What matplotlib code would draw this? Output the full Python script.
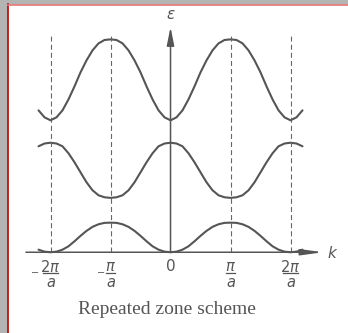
import numpy as np
import matplotlib.pyplot as plt
from matplotlib.patches import Rectangle

# energy bands in the repeated zone scheme, k in units of pi/a
# values read every 0.1 pi/a from a band edge at k = 0 to the next one at k = pi/a
band_low = [0.0, 0.03, 0.13, 0.30, 0.55, 0.82, 1.07, 1.27, 1.40, 1.47, 1.48]
band_mid = [5.48, 5.44, 5.30, 4.95, 4.50, 4.00, 3.50, 3.10, 2.85, 2.75, 2.72]
band_top = [6.60, 6.75, 7.10, 7.65, 8.30, 9.00, 9.60, 10.10, 10.45, 10.62, 10.65]

zone_lines = [-2, -1, 1, 2]
tick_pos = [-2, -1, 0, 1, 2]
tick_num = [r'$2\pi$', r'$\pi$', '0', r'$\pi$', r'$2\pi$']
tick_sign = ['\u2212', '\u2212', '', '', '']

# k from -2.2 to 2.2 pi/a in steps of 0.1, each point maps to its offset
# from the nearest even multiple of pi/a (the bands repeat every 2 pi/a)
k_tenths = np.arange(-22, 23)
m = k_tenths % 20
offset = np.where(m <= 10, m, 20 - m)
k = k_tenths / 10.0

ink = '#555555'

fig = plt.figure(figsize=(3.48, 3.33), dpi=100)
ax = fig.add_axes([0, 0, 1, 1])
ax.set_xlim(-2.842, 2.958)
ax.set_ylim(-4.04, 12.62)
ax.axis('off')

for band in (band_low, band_mid, band_top):
    ax.plot(k, np.asarray(band)[offset], color=ink, lw=1.5,
            solid_capstyle='round')

for kz in zone_lines:
    ax.plot([kz, kz], [0, 10.97], color='#666666', lw=0.8,
            dashes=(4.5, 2.8))

# axes with arrow heads
ax.annotate('', xy=(2.54, 0), xytext=(-2.41, 0),
            arrowprops=dict(arrowstyle='-|>,head_length=1.3,head_width=0.18',
                            color=ink, lw=1.1, shrinkA=0, shrinkB=0))
ax.annotate('', xy=(0, 11.27), xytext=(0, 0),
            arrowprops=dict(arrowstyle='-|>,head_length=1.1,head_width=0.22',
                            color=ink, lw=1.1, shrinkA=0, shrinkB=0))
ax.text(0, 11.9, r'$\epsilon$', color=ink, fontsize=11,
        ha='center', va='center')
ax.text(2.71, -0.05, r'$k$', color=ink, fontsize=11,
        ha='center', va='center')

# tick labels written as stacked fractions: numerator, bar, "a"
for pos, num, sign in zip(tick_pos, tick_num, tick_sign):
    if num == '0':
        ax.text(pos, -0.69, num, color=ink, fontsize=11,
                ha='center', va='center')
        continue
    wide = '2' in num
    half = 0.12 if wide else 0.08
    ax.text(pos, -0.72, num, color=ink, fontsize=10.5,
            ha='center', va='center')
    ax.plot([pos - half, pos + half], [-1.04, -1.04], color=ink, lw=0.9)
    ax.text(pos, -1.5, r'$a$', color=ink, fontsize=10.5,
            ha='center', va='center')
    if sign:
        ax.text(pos - (0.26 if wide else 0.16), -1.04, sign, color=ink,
                fontsize=7, ha='center', va='center')

fig.text(166.5 / 348, 1 - 309 / 333, 'Repeated zone scheme',
         family='Liberation Serif', fontsize=14, color=ink,
         ha='center', va='center')

# window frame
fig.patches.append(Rectangle((0, 0), 7 / 348, 1, transform=fig.transFigure,
                             color='#b4b4b4', zorder=5))
fig.patches.append(Rectangle((0, 1 - 4 / 333), 1, 4 / 333,
                             transform=fig.transFigure, color='#b4b4b4',
                             zorder=5))
fig.add_artist(plt.Line2D([7.5 / 348, 7.5 / 348], [0, 1 - 4 / 333],
                          transform=fig.transFigure, color='#c00000',
                          lw=1.2, zorder=6))
fig.add_artist(plt.Line2D([7.5 / 348, 1], [1 - 4.5 / 333, 1 - 4.5 / 333],
                          transform=fig.transFigure, color='#e87878',
                          lw=1.2, zorder=6))

fig.savefig('out.png', dpi=100, facecolor='white')
